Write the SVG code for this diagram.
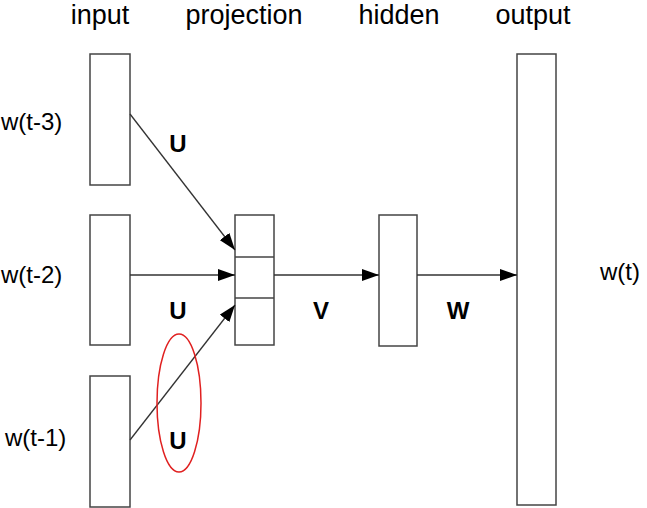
<svg xmlns="http://www.w3.org/2000/svg" width="647" height="508" viewBox="0 0 647 508">
<defs>
<style>
.box{fill:#fff;stroke:#444;stroke-width:1.5}
.edge{stroke:#333;stroke-width:1.3;fill:none}
.title{font-family:"Liberation Sans",Arial,sans-serif;font-size:27px;fill:#000;text-anchor:middle}
.lbl{font-family:"Liberation Sans",Arial,sans-serif;font-size:24px;fill:#000}
.w{font-family:"Liberation Sans",Arial,sans-serif;font-size:24px;font-weight:bold;fill:#000;text-anchor:middle}
</style>
<marker id="arr" viewBox="0 0 17 12" refX="17" refY="6" markerWidth="17" markerHeight="12" markerUnits="userSpaceOnUse" orient="auto">
<path d="M0,0 L17,6 L0,12 Z" fill="#000"/>
</marker>
</defs>
<rect width="647" height="508" fill="#fff"/>
<g id="titles">
<text class="title" x="100" y="24">input</text>
<text class="title" x="244" y="24">projection</text>
<text class="title" x="399" y="24">hidden</text>
<text class="title" x="533" y="24">output</text>
</g>
<g id="input1"><rect class="box" x="90" y="54" width="40" height="131"/><text class="lbl" x="1" y="130">w(t-3)</text></g>
<g id="input2"><rect class="box" x="90" y="215" width="40" height="130"/><text class="lbl" x="1" y="283">w(t-2)</text></g>
<g id="input3"><rect class="box" x="90" y="376" width="40" height="131"/><text class="lbl" x="5" y="446">w(t-1)</text></g>
<g id="projection"><rect class="box" x="235" y="215" width="39" height="130"/><line class="box" x1="235" y1="257" x2="274" y2="257"/><line class="box" x1="235" y1="298" x2="274" y2="298"/></g>
<g id="hidden"><rect class="box" x="379" y="215" width="38" height="131"/></g>
<g id="output"><rect class="box" x="517" y="54" width="39" height="451"/><text class="lbl" x="600" y="280">w(t)</text></g>
<g id="connectors">
<line class="edge" x1="130" y1="114" x2="235" y2="250" marker-end="url(#arr)"/>
<line class="edge" x1="130" y1="275" x2="235" y2="275" marker-end="url(#arr)"/>
<line class="edge" x1="130" y1="440" x2="235" y2="305" marker-end="url(#arr)"/>
<line class="edge" x1="274" y1="275" x2="379" y2="275" marker-end="url(#arr)"/>
<line class="edge" x1="417" y1="275" x2="517" y2="275" marker-end="url(#arr)"/>
</g>
<g id="labels">
<text class="w" x="178" y="152">U</text>
<text class="w" x="178" y="319">U</text>
<text class="w" x="178" y="449">U</text>
<text class="w" x="321" y="319">V</text>
<text class="w" x="458" y="319">W</text>
</g>
<ellipse id="highlight" cx="179" cy="403" rx="22" ry="69" fill="none" stroke="#e02020" stroke-width="1.5"/>
</svg>
